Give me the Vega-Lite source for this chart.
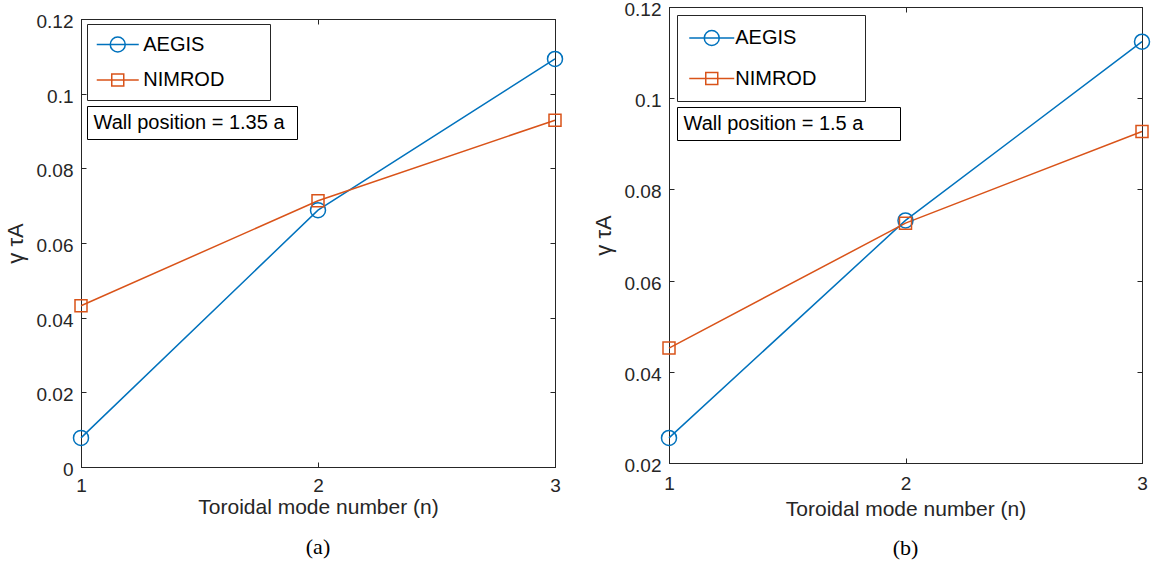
{
  "$schema": "https://vega.github.io/schema/vega-lite/v6.json",
  "background": "white",
  "padding": {"top": 0, "left": 3, "right": 5, "bottom": 5},
  "config": {
    "font": "Liberation Sans",
    "view": {"stroke": "#262626", "strokeWidth": 1},
    "axis": {
      "grid": false,
      "minExtent": 0,
      "labelOverlap": false,
      "labelFlush": false,
      "labelAngle": 0,
      "domainColor": "#262626",
      "domainWidth": 1,
      "tickColor": "#262626",
      "tickWidth": 1,
      "tickSize": -5,
      "labelColor": "#262626",
      "labelFont": "Liberation Sans",
      "labelFontSize": 19,
      "titleColor": "#262626",
      "titleFont": "Liberation Sans",
      "titleFontSize": 21,
      "titleFontWeight": "normal"
    },
    "legend": {"labelFont": "Liberation Sans", "labelColor": "black", "labelFontSize": 20, "labelLimit": 400, "titleFontSize": 1, "titleOrient": "right"},
    "title": {"font": "Liberation Serif", "fontSize": 22, "fontWeight": "normal", "color": "black"}
  },
  "spacing": 25,
  "hconcat": [
    {
      "spacing": 0,
      "vconcat": [
        {
          "width": 474,
          "height": 5,
          "data": {"values": []},
          "mark": {"type": "point", "opacity": 0},
          "view": {"stroke": null}
        },
        {
          "width": 474,
          "height": 448,
          "title": {"text": "(a)", "orient": "bottom", "offset": 20, "anchor": "middle"},
          "data": {
            "values": [
              {"n": 1, "gamma": 0.0078, "code": "AEGIS"},
              {"n": 2, "gamma": 0.0688, "code": "AEGIS"},
              {"n": 3, "gamma": 0.1093, "code": "AEGIS"},
              {"n": 1, "gamma": 0.0432, "code": "NIMROD"},
              {"n": 2, "gamma": 0.0713, "code": "NIMROD"},
              {"n": 3, "gamma": 0.0929, "code": "NIMROD"}
            ]
          },
          "layer": [
            {
              "mark": {"type": "line", "strokeWidth": 1.5},
              "encoding": {
                "x": {"field": "n", "type": "ordinal", "scale": {"type": "point", "padding": 0, "domain": [1, 2, 3]},
                      "axis": {"orient": "bottom", "labelOverlap": false, "labelAngle": 0, "title": "Toroidal mode number (n)", "labelPadding": 14, "titlePadding": 1}},
                "y": {"field": "gamma", "type": "quantitative", "scale": {"domain": [0, 0.12], "nice": false, "zero": false},
                      "axis": {"orient": "left", "values": [0, 0.02, 0.04, 0.06, 0.08, 0.1, 0.12], "tickCount": 10, "format": ".2~f", "labelOverlap": false, "labelOffset": 2.5, "title": "γ τA", "titleFontSize": 22, "labelPadding": 13, "titlePadding": 9}},
                "color": {
                  "field": "code", "type": "nominal",
                  "scale": {"domain": ["AEGIS", "NIMROD"], "range": ["#0072BD", "#D95319"]},
                  "legend": {
                    "orient": "none", "legendX": 6, "legendY": 17, "title": "\u00a0", "titlePadding": 35.5, "padding": 9.5,
                    "strokeColor": "#262626", "fillColor": "white",
                    "symbolSize": 400, "symbolStrokeWidth": 1.5, "symbolOffset": 10.25, "symbolOpacity": 1,
                    "symbolFillColor": "transparent",
                    "rowPadding": 13.5, "labelOffset": 14.5
                  }
                }
              }
            },
            {
              "transform": [{"filter": "datum.code === 'AEGIS'"}],
              "mark": {"type": "point", "shape": "circle", "size": 225, "filled": false, "strokeWidth": 1.5, "opacity": 1},
              "encoding": {
                "x": {"field": "n", "type": "ordinal", "scale": {"type": "point", "padding": 0, "domain": [1, 2, 3]},
                      "axis": {"orient": "top", "labels": false, "title": null, "maxExtent": 0}},
                "y": {"field": "gamma", "type": "quantitative", "scale": {"domain": [0, 0.12], "nice": false, "zero": false},
                      "axis": {"orient": "right", "values": [0, 0.02, 0.04, 0.06, 0.08, 0.1, 0.12], "tickCount": 10, "labels": false, "title": null, "maxExtent": 0}},
                "color": {"field": "code", "type": "nominal"}
              }
            },
            {
              "transform": [{"filter": "datum.code === 'NIMROD'"}],
              "mark": {"type": "point", "shape": "square", "size": 144, "filled": false, "strokeWidth": 1.5, "opacity": 1},
              "encoding": {
                "x": {"field": "n", "type": "ordinal", "axis": null},
                "y": {"field": "gamma", "type": "quantitative", "axis": null},
                "color": {"field": "code", "type": "nominal"}
              }
            },
            {
              "mark": {"type": "point", "size": 400, "filled": false, "strokeWidth": 1.5, "opacity": 0},
              "encoding": {
                "color": {"field": "code", "type": "nominal"},
                "shape": {
                  "field": "code", "type": "nominal",
                  "scale": {"domain": ["AEGIS", "NIMROD"], "range": [
                    "M-2.1,0H2.1M0.75,0A0.75,0.75 0 1 1 -0.75,0A0.75,0.75 0 1 1 0.75,0",
                    "M-2.1,0H2.1M-0.6,-0.6H0.6V0.6H-0.6Z"
                  ]},
                  "legend": {
                    "orient": "none", "legendX": 6, "legendY": 17, "title": "\u00a0", "titlePadding": 35.5, "padding": 9.5,
                    "strokeColor": "#262626", "fillColor": "white",
                    "symbolSize": 400, "symbolStrokeWidth": 1.5, "symbolOffset": 10.25, "symbolOpacity": 1,
                    "symbolFillColor": "transparent",
                    "rowPadding": 13.5, "labelOffset": 14.5
                  }
                }
              }
            },
            {
              "data": {"values": [{"note": "Wall position = 1.35 a"}]},
              "mark": {"type": "point", "opacity": 0},
              "encoding": {
                "strokeDash": {
                  "field": "note", "type": "nominal",
                  "legend": {
                    "orient": "none", "legendX": 6, "legendY": 99, "title": "\u00a0", "titlePadding": 6, "padding": 6.5,
                    "strokeColor": "black", "fillColor": "white",
                    "symbolSize": 400, "symbolOpacity": 0, "symbolStrokeWidth": 0, "labelOffset": -20
                  }
                }
              }
            }
          ],
          "resolve": {"axis": {"x": "independent", "y": "independent"}}
        }
      ]
    },
    {
      "width": 473,
      "height": 456,
      "title": {"text": "(b)", "orient": "bottom", "offset": 19, "anchor": "middle"},
      "data": {
        "values": [
          {"n": 1, "gamma": 0.0255, "code": "AEGIS"},
          {"n": 2, "gamma": 0.0732, "code": "AEGIS"},
          {"n": 3, "gamma": 0.1124, "code": "AEGIS"},
          {"n": 1, "gamma": 0.0452, "code": "NIMROD"},
          {"n": 2, "gamma": 0.0726, "code": "NIMROD"},
          {"n": 3, "gamma": 0.0927, "code": "NIMROD"}
        ]
      },
      "layer": [
        {
          "mark": {"type": "line", "strokeWidth": 1.5},
          "encoding": {
            "x": {"field": "n", "type": "ordinal", "scale": {"type": "point", "padding": 0, "domain": [1, 2, 3]},
                  "axis": {"orient": "bottom", "labelOverlap": false, "labelAngle": 0, "title": "Toroidal mode number (n)", "labelPadding": 16, "titlePadding": 5}},
            "y": {"field": "gamma", "type": "quantitative", "scale": {"domain": [0.02, 0.12], "nice": false, "zero": false},
                  "axis": {"orient": "left", "values": [0.02, 0.04, 0.06, 0.08, 0.1, 0.12], "tickCount": 10, "format": ".2~f", "labelOverlap": false, "labelOffset": 2.5, "title": "γ τA", "titleFontSize": 22, "labelPadding": 13, "titlePadding": 9}},
            "color": {
              "field": "code", "type": "nominal",
              "scale": {"domain": ["AEGIS", "NIMROD"], "range": ["#0072BD", "#D95319"]},
              "legend": {
                "orient": "top-left", "offset": 8, "title": "\u00a0", "titlePadding": 37, "padding": 12,
                "strokeColor": "#262626", "fillColor": "white",
                "symbolSize": 400, "symbolStrokeWidth": 1.5, "symbolOffset": 11.75, "symbolOpacity": 1,
                "symbolFillColor": "transparent",
                "rowPadding": 18.5, "labelOffset": 12.5
              }
            }
          }
        },
        {
          "transform": [{"filter": "datum.code === 'AEGIS'"}],
          "mark": {"type": "point", "shape": "circle", "size": 225, "filled": false, "strokeWidth": 1.5, "opacity": 1},
          "encoding": {
            "x": {"field": "n", "type": "ordinal", "scale": {"type": "point", "padding": 0, "domain": [1, 2, 3]},
                  "axis": {"orient": "top", "labels": false, "title": null, "maxExtent": 0}},
            "y": {"field": "gamma", "type": "quantitative", "scale": {"domain": [0.02, 0.12], "nice": false, "zero": false},
                  "axis": {"orient": "right", "values": [0.02, 0.04, 0.06, 0.08, 0.1, 0.12], "tickCount": 10, "labels": false, "title": null, "maxExtent": 0}},
            "color": {"field": "code", "type": "nominal"}
          }
        },
        {
          "transform": [{"filter": "datum.code === 'NIMROD'"}],
          "mark": {"type": "point", "shape": "square", "size": 144, "filled": false, "strokeWidth": 1.5, "opacity": 1},
          "encoding": {
            "x": {"field": "n", "type": "ordinal", "axis": null},
            "y": {"field": "gamma", "type": "quantitative", "axis": null},
            "color": {"field": "code", "type": "nominal"}
          }
        },
        {
          "mark": {"type": "point", "size": 400, "filled": false, "strokeWidth": 1.5, "opacity": 0},
          "encoding": {
            "color": {"field": "code", "type": "nominal"},
            "shape": {
              "field": "code", "type": "nominal",
              "scale": {"domain": ["AEGIS", "NIMROD"], "range": [
                "M-2.25,0H2.25M0.75,0A0.75,0.75 0 1 1 -0.75,0A0.75,0.75 0 1 1 0.75,0",
                "M-2.25,0H2.25M-0.6,-0.6H0.6V0.6H-0.6Z"
              ]},
              "legend": {
                "orient": "top-left", "offset": 8, "title": "\u00a0", "titlePadding": 37, "padding": 12,
                "strokeColor": "#262626", "fillColor": "white",
                "symbolSize": 400, "symbolStrokeWidth": 1.5, "symbolOffset": 11.75, "symbolOpacity": 1,
                "symbolFillColor": "transparent",
                "rowPadding": 18.5, "labelOffset": 12.5
              }
            }
          }
        },
        {
          "data": {"values": [{"note": "Wall position = 1.5 a"}]},
          "mark": {"type": "point", "opacity": 0},
          "encoding": {
            "strokeDash": {
              "field": "note", "type": "nominal",
              "legend": {
                "orient": "none", "legendX": 8, "legendY": 100, "title": "\u00a0", "titlePadding": 30, "padding": 6.5,
                "strokeColor": "black", "fillColor": "white",
                "symbolSize": 400, "symbolOpacity": 0, "symbolStrokeWidth": 0, "labelOffset": -20
              }
            }
          }
        }
      ],
      "resolve": {"axis": {"x": "independent", "y": "independent"}}
    }
  ],
  "resolve": {
    "scale": {"color": "independent", "shape": "independent", "strokeDash": "independent"}
  }
}
